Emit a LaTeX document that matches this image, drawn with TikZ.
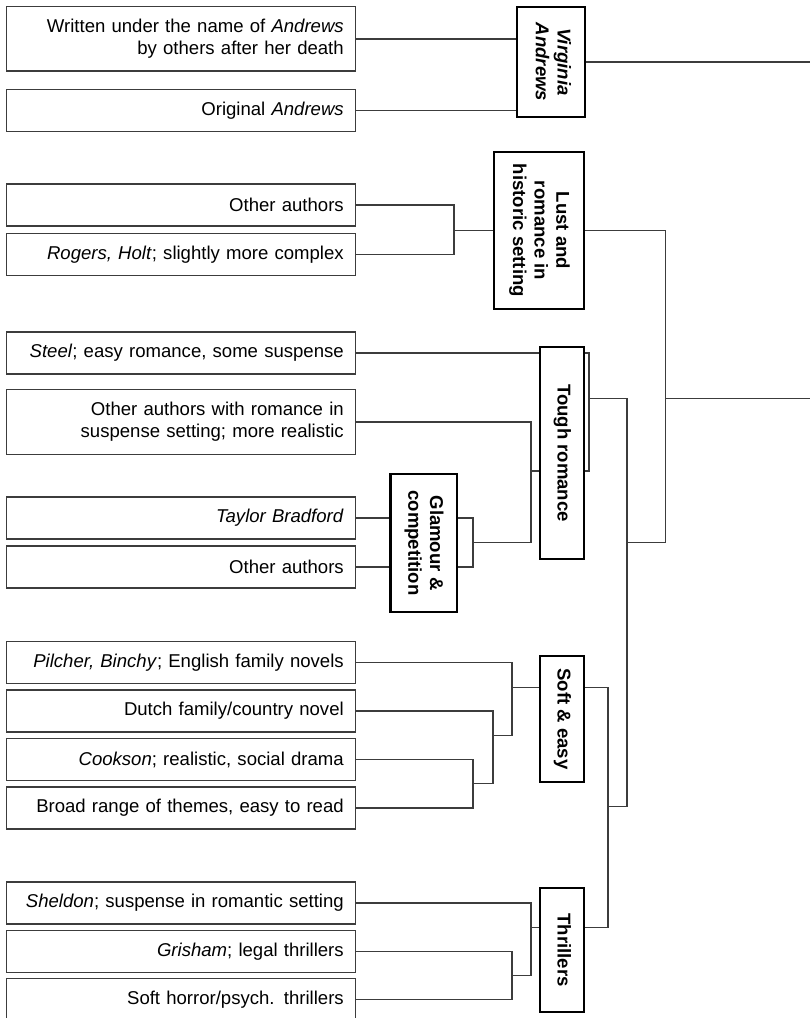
\documentclass[tikz,border=0pt]{standalone}
\usepackage{fontspec}
\setmainfont{Liberation Sans}
\usepackage{graphicx}
\usepackage{tikz}
\usetikzlibrary{calc}
\definecolor{linegray}{RGB}{60, 60, 60}
\newcommand{\vlab}[1]{\rotatebox{-90}{\begin{tabular}{@{}c@{}}#1\end{tabular}}}

\begin{document}
\begin{tikzpicture}[x=0.025cm, y=-0.025cm,
  leaf/.style={draw=linegray, line width=0.9pt, fill=white, minimum width=8.725cm, minimum height=1.05cm,
    text width=8.125cm, inner xsep=0.3cm, align=right, font=\fontsize{13.2}{15.4}\selectfont},
  twoline/.style={minimum height=1.61cm},
  group/.style={draw=black, line width=2pt, fill=white, inner sep=0pt, font=\fontsize{13.2}{15.4}\selectfont\bfseries},
  conn/.style={draw=linegray, line width=0.9pt}]
  \useasboundingbox (0, 0) rectangle (810, 1018);

  % Leaves
  \node[leaf, twoline] (w1) at (181.2, 38.9) {Written under the name of \textit{Andrews}\\by others after her death};
  \node[leaf] (w2) at (181.2, 110.8) {Original \textit{Andrews}};

  \node[leaf] (l1) at (181.2, 205) {Other authors};
  \node[leaf] (l2) at (181.2, 254.5) {\textit{Rogers, Holt}; slightly more complex};

  \node[leaf] (t1) at (181.2, 353) {\textit{Steel}; easy romance, some suspense};
  \node[leaf, twoline] (t2) at (181.2, 422) {Other authors with romance in\\suspense setting; more realistic};
  \node[leaf] (g1) at (181.2, 518) {\textit{Taylor Bradford}};
  \node[leaf] (g2) at (181.2, 567) {Other authors};

  \node[leaf] (s1) at (181.2, 662.5) {\textit{Pilcher, Binchy}; English family novels};
  \node[leaf] (s2) at (181.2, 711) {Dutch family/country novel};
  \node[leaf] (s3) at (181.2, 759.5) {\textit{Cookson}; realistic, social drama};
  \node[leaf] (s4) at (181.2, 808) {Broad range of themes, easy to read};

  \node[leaf] (h1) at (181.2, 903) {\textit{Sheldon}; suspense in romantic setting};
  \node[leaf] (h2) at (181.2, 951.2) {\textit{Grisham}; legal thrillers};
  \node[leaf] (h3) at (181.2, 999.3) {Soft horror/psych. thrillers};

  % Groups
  \node[group, minimum width=1.7cm, minimum height=2.75cm] (va) at (551, 62) {\vlab{\itshape Virginia\\\itshape Andrews}};
  \node[group, minimum width=2.25cm, minimum height=3.92cm] (lr) at (539, 230.5) {\vlab{Lust and\\romance in\\historic setting}};
  \node[group, minimum width=1.1cm, minimum height=5.3cm] (tr) at (562, 453) {\vlab{Tough romance}};
  \node[group, minimum width=1.67cm, minimum height=3.45cm] (gc) at (423.5, 543) {\vlab{Glamour \&\\competition}};
  \node[group, minimum width=1.1cm, minimum height=3.15cm] (se) at (562, 719) {\vlab{Soft \& easy}};
  \node[group, minimum width=1.1cm, minimum height=3.1cm] (th) at (562, 950) {\vlab{Thrillers}};

  % Junctions
  \coordinate (jl) at (454, 230.5);
  \coordinate (jg) at (473, 542.3);
  \coordinate (jt) at (531, 471);
  \coordinate (jtr) at (589, 398.7);
  \coordinate (jrest) at (627, 542.3);
  \coordinate (jmain) at (665.5, 398.7);
  \coordinate (rtop) at (810, 398.7);
  \coordinate (rva) at (810, 62);
  \coordinate (jst) at (608, 806.7);
  \coordinate (js1) at (512, 687.3);
  \coordinate (js2) at (493, 735.3);
  \coordinate (js3) at (473, 783.3);
  \coordinate (jh1) at (531, 927.3);
  \coordinate (jh2) at (512, 975.7);

  % Virginia Andrews
  \draw[conn] (w1.east) -- (w1.east -| va.west);
  \draw[conn] (w2.east) -- (w2.east -| va.west);
  \draw[conn] (va.east) -- (rva);

  % Lust and romance
  \draw[conn] (l1.east) -| (jl) |- (l2.east);
  \draw[conn] (jl) -- (jl -| lr.west);

  % Tough romance
  \draw[conn] (g1.east) -- (g1.east -| gc.west);
  \draw[conn] (g2.east) -- (g2.east -| gc.west);
  \draw[conn] (g1.east -| gc.east) -| (jg) |- (g2.east -| gc.east);
  \draw[conn] (t2.east) -| (jt) |- (jg);
  \draw[conn] (jt) -- (jt -| tr.west);
  \draw[conn] (t1.east) -- (t1.east -| tr.west);
  \draw[conn] (t1.east -| tr.east) -| (jtr) |- (jt -| tr.east);

  % Soft & easy
  \draw[conn] (s3.east) -| (js3) |- (s4.east);
  \draw[conn] (s2.east) -| (js2) |- (js3);
  \draw[conn] (s1.east) -| (js1) |- (js2);
  \draw[conn] (js1) -- (js1 -| se.west);

  % Thrillers
  \draw[conn] (h2.east) -| (jh2) |- (h3.east);
  \draw[conn] (h1.east) -| (jh1) |- (jh2);
  \draw[conn] (jh1) -- (jh1 -| th.west);

  % Upper levels
  \draw[conn] (js1 -| se.east) -| (jst) |- (jh1 -| th.east);
  \draw[conn] (jst) -| (jrest) |- (jtr);
  \draw[conn] (jrest) -| (jmain) |- (lr.east);
  \draw[conn] (jmain) -- (rtop);
\end{tikzpicture}
\end{document}
